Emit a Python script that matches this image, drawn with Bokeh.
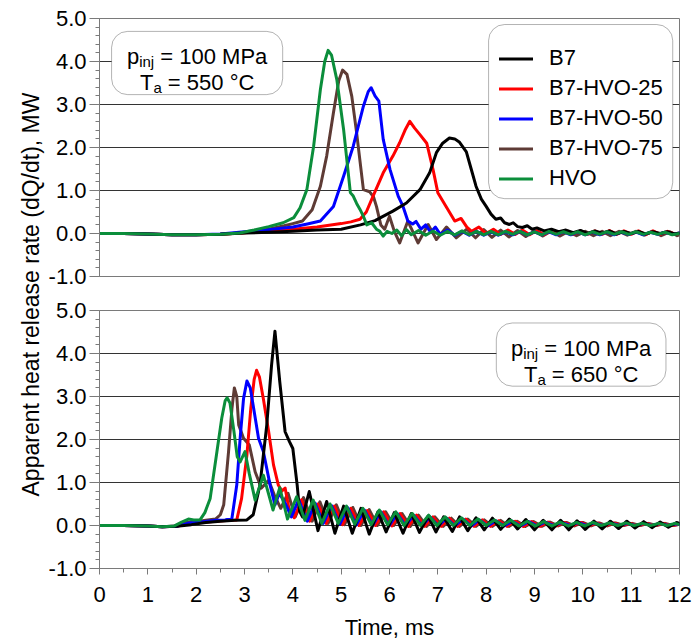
import math
from bokeh.plotting import figure
from bokeh.layouts import row, column
from bokeh.models import (Range1d, FixedTicker, NumeralTickFormatter, BoxAnnotation,
                          Label, Legend, LegendItem)
from bokeh.embed import file_html
from bokeh.resources import INLINE

# ---------------- data (time in ms, heat release rate in MW) ----------------
series_names = ["B7", "B7-HVO-25", "B7-HVO-50", "B7-HVO-75", "HVO"]
series_colors = ["#000000", "#ff0000", "#0000ff", "#5e3b35", "#0b8e3b"]
x_ticks = [0, 1, 2, 3, 4, 5, 6, 7, 8, 9, 10, 11, 12]
y_ticks = [-1, 0, 1, 2, 3, 4, 5]

b7_550 = [(0,0),(0.5,0),(1.0,-0.01),(1.5,-0.03),(2.0,-0.03),(2.5,-0.02),(3.0,0.01),(3.5,0.03),(4.0,0.05),(4.5,0.08),(5.0,0.1),(5.4,0.2),(5.7,0.3),(6.07,0.52),(6.35,0.71),(6.63,1.02),(6.83,1.41),(6.97,1.88),(7.1,2.1),(7.24,2.22),(7.35,2.2),(7.45,2.12),(7.59,1.9),(7.69,1.5),(7.79,1.1),(7.9,0.8),(8.0,0.63),(8.1,0.45),(8.2,0.33),(8.3,0.36),(8.38,0.25),(8.48,0.21),(8.56,0.25),(8.65,0.16),(8.75,0.14),(8.85,0.18),(8.95,0.1),(9.05,0.13),(9.2,0.06),(9.35,0.1),(9.5,0.04),(9.65,0.08),(9.8,0.02),(9.95,0.07),(10.1,0.0),(10.25,0.06),(10.4,0.01),(10.55,0.06),(10.7,-0.01),(10.85,0.05),(11.0,0.0),(11.15,0.05),(11.3,-0.01),(11.45,0.04),(11.6,0.0),(11.75,0.04),(11.9,-0.01),(12.0,0.01)]
h25_550 = [(0,0),(0.5,0),(1.0,-0.01),(1.5,-0.03),(2.0,-0.03),(2.5,-0.02),(3.0,0.02),(3.5,0.05),(4.0,0.1),(4.5,0.15),(5.0,0.23),(5.2,0.27),(5.39,0.33),(5.52,0.5),(5.66,0.87),(5.87,1.41),(6.07,1.8),(6.21,2.11),(6.32,2.4),(6.42,2.61),(6.52,2.45),(6.63,2.3),(6.77,2.1),(6.9,1.49),(7.0,0.95),(7.17,0.63),(7.35,0.29),(7.48,0.35),(7.6,0.15),(7.7,0.05),(7.85,0.15),(8.0,0.0),(8.15,0.1),(8.3,-0.02),(8.45,0.08),(8.6,-0.02),(8.75,0.08),(8.9,-0.03),(9.05,0.07),(9.2,-0.03),(9.35,0.07),(9.5,-0.02),(9.65,0.07),(9.8,-0.02),(9.95,0.06),(10.1,-0.02),(10.25,0.06),(10.4,-0.02),(10.55,0.07),(10.7,-0.02),(10.85,0.06),(11.0,-0.02),(11.15,0.06),(11.3,-0.03),(11.45,0.06),(11.6,-0.02),(11.75,0.05),(11.9,-0.01),(12.0,0.0)]
h50_550 = [(0,0),(0.5,0),(1.0,-0.01),(1.5,-0.03),(2.0,-0.03),(2.5,-0.01),(3.0,0.04),(3.5,0.09),(4.0,0.15),(4.3,0.22),(4.57,0.29),(4.84,0.63),(5.05,1.33),(5.25,2.03),(5.46,2.96),(5.56,3.3),(5.62,3.39),(5.7,3.2),(5.78,3.08),(5.87,2.19),(6.01,1.49),(6.18,0.87),(6.28,0.63),(6.38,0.29),(6.48,0.22),(6.55,0.28),(6.65,0.1),(6.75,0.2),(6.85,0.03),(6.95,0.15),(7.05,-0.02),(7.2,0.08),(7.35,-0.04),(7.5,0.05),(7.65,-0.04),(7.8,0.05),(7.95,-0.04),(8.1,0.04),(8.25,-0.04),(8.4,0.04),(8.55,-0.03),(8.7,0.05),(8.85,-0.03),(9.0,0.04),(9.15,-0.03),(9.3,0.04),(9.45,-0.03),(9.6,0.04),(9.75,-0.03),(9.9,0.04),(10.05,-0.03),(10.2,0.03),(10.35,-0.03),(10.5,0.04),(10.65,-0.03),(10.8,0.03),(10.95,-0.02),(11.1,0.03),(11.25,-0.03),(11.4,0.03),(11.55,-0.02),(11.7,0.03),(11.85,-0.02),(12.0,0.01)]
h75_550 = [(0,0),(0.5,0),(1.0,-0.01),(1.5,-0.03),(2.0,-0.03),(2.5,-0.02),(3.0,0.02),(3.5,0.1),(3.82,0.18),(4.0,0.23),(4.2,0.29),(4.4,0.55),(4.57,1.1),(4.7,1.8),(4.84,2.81),(4.95,3.55),(5.03,3.8),(5.12,3.7),(5.22,3.19),(5.32,2.34),(5.46,1.02),(5.59,0.97),(5.67,0.85),(5.73,0.63),(5.82,0.2),(5.9,0.1),(6.0,0.4),(6.1,0.05),(6.21,-0.22),(6.38,0.29),(6.59,-0.22),(6.8,0.21),(6.97,-0.14),(7.18,0.15),(7.38,-0.1),(7.6,0.1),(7.78,-0.1),(7.95,0.09),(8.12,-0.09),(8.3,0.08),(8.47,-0.08),(8.65,0.07),(8.82,-0.07),(9.0,0.06),(9.17,-0.06),(9.35,0.06),(9.52,-0.06),(9.7,0.05),(9.87,-0.05),(10.05,0.05),(10.22,-0.05),(10.4,0.05),(10.57,-0.05),(10.75,0.05),(10.92,-0.04),(11.1,0.05),(11.27,-0.04),(11.45,0.05),(11.62,-0.05),(11.8,0.04),(11.95,-0.05),(12.0,-0.03)]
hvo_550 = [(0,0),(0.5,0),(1.0,-0.01),(1.5,-0.03),(2.0,-0.03),(2.5,-0.02),(2.9,0.01),(3.2,0.08),(3.5,0.16),(3.8,0.25),(4.02,0.37),(4.15,0.6),(4.29,1.02),(4.43,2.03),(4.57,3.35),(4.66,4.0),(4.73,4.26),(4.8,4.15),(4.91,3.58),(5.05,2.42),(5.19,0.95),(5.25,0.87),(5.32,0.7),(5.39,0.56),(5.46,0.4),(5.53,0.2),(5.63,0.25),(5.73,0.1),(5.8,0.05),(5.87,-0.06),(5.95,0.05),(6.05,0.0),(6.15,0.08),(6.25,-0.05),(6.35,0.09),(6.45,-0.03),(6.6,0.07),(6.75,-0.04),(6.9,0.06),(7.05,-0.04),(7.2,0.05),(7.35,-0.03),(7.5,0.06),(7.65,-0.03),(7.8,0.05),(7.95,-0.03),(8.1,0.05),(8.25,-0.03),(8.4,0.05),(8.55,-0.02),(8.7,0.05),(8.85,-0.03),(9.0,0.04),(9.15,-0.03),(9.3,0.05),(9.45,-0.02),(9.6,0.04),(9.75,-0.02),(9.9,0.04),(10.05,-0.03),(10.2,0.04),(10.35,-0.02),(10.5,0.04),(10.65,-0.02),(10.8,0.04),(10.95,-0.02),(11.1,0.04),(11.25,-0.02),(11.4,0.03),(11.55,-0.02),(11.7,0.03),(11.85,-0.03),(12.0,0.0)]

b7_650 = [(0,0),(0.5,0),(1.0,-0.01),(1.3,-0.03),(1.6,-0.02),(1.9,0.02),(2.2,0.07),(2.5,0.1),(2.8,0.12),(3.05,0.13),(3.18,0.25),(3.32,0.94),(3.46,2.33),(3.56,3.73),(3.63,4.52),(3.73,3.34),(3.84,2.18),(3.93,1.95),(4.0,1.79),(4.09,0.94),(4.14,0.33),(4.2,0.2),(4.34,0.79),(4.52,-0.12),(4.7,0.56),(4.87,-0.18),(5.05,0.45),(5.23,-0.18),(5.41,0.4),(5.58,-0.2),(5.76,0.32),(5.93,-0.15),(6.1,0.3),(6.28,-0.18),(6.45,0.28),(6.62,-0.16),(6.8,0.22),(6.96,-0.15),(7.12,0.2),(7.3,-0.14),(7.45,0.2),(7.62,-0.12),(7.79,0.18),(7.96,-0.1),(8.13,0.17),(8.3,-0.09),(8.48,0.15),(8.65,-0.08),(8.82,0.14),(9.0,-0.1),(9.18,0.12),(9.36,-0.1),(9.54,0.12),(9.71,-0.1),(9.88,0.11),(10.05,-0.09),(10.23,0.1),(10.4,-0.08),(10.57,0.1),(10.74,-0.07),(10.91,0.1),(11.08,-0.06),(11.26,0.09),(11.43,-0.05),(11.6,0.08),(11.77,-0.04),(11.94,0.07),(12.0,0.05)]
h25_650 = [(0,0),(0.5,0),(1.0,-0.01),(1.3,-0.03),(1.6,-0.02),(1.85,0.05),(2.1,0.07),(2.4,0.1),(2.7,0.12),(2.84,0.13),(2.94,0.63),(3.05,1.64),(3.13,2.72),(3.2,3.4),(3.25,3.61),(3.31,3.45),(3.39,2.95),(3.5,2.18),(3.6,1.41),(3.7,0.94),(3.77,0.8),(3.84,0.87),(3.93,0.33),(4.03,0.18),(4.18,0.6),(4.35,0.1),(4.52,0.5),(4.69,0.05),(4.86,0.45),(5.03,0.02),(5.2,0.4),(5.37,0.0),(5.54,0.35),(5.71,0.0),(5.88,0.32),(6.05,-0.01),(6.22,0.28),(6.39,-0.02),(6.56,0.24),(6.73,-0.02),(6.9,0.2),(7.07,-0.02),(7.24,0.17),(7.41,-0.02),(7.58,0.15),(7.75,-0.02),(7.92,0.13),(8.09,-0.02),(8.26,0.11),(8.43,-0.02),(8.6,0.1),(8.77,-0.02),(8.94,0.09),(9.11,-0.02),(9.28,0.08),(9.45,-0.01),(9.62,0.07),(9.79,-0.01),(9.96,0.07),(10.13,-0.01),(10.3,0.06),(10.47,-0.01),(10.64,0.06),(10.81,0.0),(10.98,0.05),(11.15,0.0),(11.32,0.05),(11.49,0.0),(11.66,0.05),(11.83,0.0),(12.0,0.03)]
h50_650 = [(0,0),(0.5,0),(1.0,-0.01),(1.3,-0.03),(1.6,-0.02),(1.85,0.06),(2.1,0.08),(2.4,0.12),(2.6,0.13),(2.74,0.17),(2.84,0.94),(2.91,2.03),(2.98,2.95),(3.05,3.36),(3.12,3.2),(3.19,2.72),(3.29,2.03),(3.39,1.72),(3.53,0.94),(3.63,0.48),(3.72,0.75),(3.85,0.5),(3.97,0.2),(4.12,0.6),(4.3,0.1),(4.46,0.52),(4.63,0.05),(4.8,0.46),(4.97,0.03),(5.14,0.41),(5.31,0.01),(5.48,0.36),(5.65,0.0),(5.82,0.32),(5.99,-0.01),(6.16,0.28),(6.33,-0.01),(6.5,0.24),(6.67,-0.01),(6.84,0.2),(7.01,-0.01),(7.18,0.17),(7.35,-0.01),(7.52,0.15),(7.69,-0.01),(7.86,0.13),(8.03,-0.01),(8.2,0.11),(8.37,-0.01),(8.54,0.1),(8.71,-0.01),(8.88,0.09),(9.05,-0.01),(9.22,0.08),(9.39,0.0),(9.56,0.07),(9.73,0.0),(9.9,0.07),(10.07,0.0),(10.24,0.06),(10.41,0.0),(10.58,0.06),(10.75,0.0),(10.92,0.05),(11.09,0.0),(11.26,0.05),(11.43,0.0),(11.6,0.05),(11.77,0.0),(11.94,0.04),(12.0,0.03)]
h75_650 = [(0,0),(0.5,0),(1.0,-0.01),(1.3,-0.03),(1.6,-0.01),(1.8,0.07),(2.0,0.09),(2.2,0.12),(2.4,0.15),(2.5,0.25),(2.57,0.48),(2.67,1.72),(2.74,2.72),(2.79,3.2),(2.84,3.0),(2.88,2.34),(2.98,2.03),(3.1,1.87),(3.22,1.25),(3.35,0.87),(3.5,1.05),(3.62,0.7),(3.75,0.4),(3.9,0.75),(4.05,0.2),(4.22,0.65),(4.4,0.1),(4.56,0.55),(4.73,0.05),(4.9,0.48),(5.07,0.02),(5.24,0.42),(5.41,0.0),(5.58,0.37),(5.75,0.0),(5.92,0.32),(6.09,0.0),(6.26,0.28),(6.43,-0.02),(6.6,0.24),(6.77,-0.02),(6.94,0.2),(7.11,-0.02),(7.28,0.17),(7.45,-0.02),(7.62,0.15),(7.79,-0.02),(7.96,0.13),(8.13,-0.02),(8.3,0.12),(8.47,-0.02),(8.64,0.1),(8.81,-0.02),(8.98,0.09),(9.15,-0.02),(9.32,0.08),(9.49,-0.01),(9.66,0.07),(9.83,-0.01),(10.0,0.07),(10.17,-0.01),(10.34,0.06),(10.51,-0.01),(10.68,0.06),(10.85,0.0),(11.02,0.05),(11.19,0.0),(11.36,0.05),(11.53,0.0),(11.7,0.05),(11.87,0.0),(12.0,0.03)]
hvo_650 = [(0,0),(0.5,0),(1.0,-0.01),(1.3,-0.03),(1.55,-0.01),(1.7,0.08),(1.84,0.15),(1.95,0.13),(2.08,0.13),(2.18,0.3),(2.29,0.63),(2.43,1.72),(2.53,2.5),(2.6,2.9),(2.64,2.97),(2.7,2.85),(2.78,2.2),(2.85,1.6),(2.91,1.48),(3.01,1.72),(3.1,1.2),(3.22,0.59),(3.39,1.17),(3.59,0.36),(3.73,0.88),(3.89,0.15),(4.08,0.67),(4.25,0.12),(4.42,0.59),(4.6,0.05),(4.77,0.5),(4.94,0.05),(5.11,0.45),(5.28,0.03),(5.45,0.4),(5.62,0.02),(5.79,0.36),(5.96,0.02),(6.13,0.32),(6.3,0.0),(6.47,0.28),(6.64,0.0),(6.81,0.24),(6.98,0.0),(7.15,0.2),(7.32,0.0),(7.49,0.18),(7.66,0.0),(7.83,0.15),(8.0,0.0),(8.17,0.13),(8.34,0.0),(8.51,0.12),(8.68,-0.01),(8.85,0.1),(9.02,-0.01),(9.19,0.09),(9.36,-0.01),(9.53,0.08),(9.7,-0.01),(9.87,0.07),(10.04,-0.01),(10.21,0.07),(10.38,0.0),(10.55,0.06),(10.72,0.0),(10.89,0.06),(11.06,0.0),(11.23,0.05),(11.4,0.0),(11.57,0.05),(11.74,0.0),(11.91,0.05),(12.0,0.02)]

panel_550 = [b7_550, h25_550, h50_550, h75_550, hvo_550]
panel_650 = [b7_650, h25_650, h50_650, h75_650, hvo_650]

# ---------------- styling ----------------
FONT = "Liberation Sans"
FS = "22px"
FRAME = "#7a7a7a"
GRID = "#333333"

# Arial/Liberation Sans advance widths (per 1000 em) for box texts
ADV = {"p": 556, "i": 222, "n": 556, "j": 222, " ": 278, "=": 584, "0": 556, "1": 556,
       "5": 556, "6": 556, "M": 833, "P": 667, "a": 556, "T": 611, "°": 400, "C": 722}


def text_w(s, size):
    return sum(ADV.get(c, 556) for c in s) * size / 1000.0


def make_fig(height, top_b, bottom_b, show_x):
    p = figure(width=647, height=height, x_range=Range1d(0, 12), y_range=Range1d(-1, 5),
               output_backend="svg", toolbar_location=None,
               min_border_left=51, min_border_right=13,
               min_border_top=top_b, min_border_bottom=bottom_b)
    p.outline_line_color = FRAME
    p.outline_line_width = 1
    p.background_fill_color = "white"
    p.xgrid.visible = False
    p.ygrid.ticker = FixedTicker(ticks=[0, 1, 2, 3, 4])
    p.ygrid.grid_line_color = GRID
    p.ygrid.grid_line_width = 1

    ya = p.yaxis[0]
    ya.ticker = FixedTicker(ticks=y_ticks, minor_ticks=[-1 + 0.2 * k for k in range(31)])
    ya.formatter = NumeralTickFormatter(format="0.0")
    ya.major_label_text_font = FONT
    ya.major_label_text_font_size = FS
    ya.major_label_text_color = "black"
    ya.major_tick_out = 10
    ya.major_tick_in = 0
    ya.minor_tick_out = 4
    ya.minor_tick_in = 0
    ya.major_label_standoff = 3
    ya.axis_line_color = FRAME
    ya.major_tick_line_color = FRAME
    ya.minor_tick_line_color = FRAME

    xa = p.xaxis[0]
    if show_x:
        xa.ticker = FixedTicker(ticks=x_ticks, minor_ticks=[0.5 + k for k in range(12)])
        xa.major_label_text_font = FONT
        xa.major_label_text_font_size = FS
        xa.major_label_text_color = "black"
        xa.major_tick_out = 6
        xa.major_tick_in = 0
        xa.minor_tick_out = 4
        xa.minor_tick_in = 0
        xa.major_label_standoff = 12
        xa.axis_line_color = FRAME
        xa.major_tick_line_color = FRAME
        xa.minor_tick_line_color = FRAME
        xa.axis_label = "Time, ms"
        xa.axis_label_text_font = FONT
        xa.axis_label_text_font_size = FS
        xa.axis_label_text_font_style = "normal"
        xa.axis_label_text_color = "black"
        xa.axis_label_standoff = 10
    else:
        xa.visible = False
    return p


def draw_series(p, data):
    rends = {}
    order = [3, 1, 2, 0, 4]
    for i in order:
        pts = data[i]
        xs = [a for a, _ in pts]
        ys = [b for _, b in pts]
        r = p.line(xs, ys, line_color=series_colors[i], line_width=3,
                   line_join="round", line_cap="round")
        rends[i] = r
    return [rends[i] for i in range(len(series_names))]


def add_condition_box(p, left, right, top, bottom, temp):
    p.add_layout(BoxAnnotation(left=left, right=right, top=top, bottom=bottom,
                               fill_color="white", fill_alpha=1.0,
                               line_color="black", line_width=1, border_radius=16))
    cx = (left + right) / 2.0
    lines = [
        (4.116, [("p", 22, 0, 0.0), ("inj", 15, -5, 0.0), ("= 100 MPa", 22, 0, text_w(" ", 22))]),
        (3.512, [("T", 22, 0, 0.0), ("a", 15, -5, 0.0), ("= %d °C" % temp, 22, 0, text_w(" ", 22))]),
    ]
    for y, parts in lines:
        total = sum(gap + text_w(t, s) for t, s, _, gap in parts)
        off = -total / 2.0
        for t, s, dy, gap in parts:
            off += gap
            p.add_layout(Label(x=cx, y=y, x_offset=off, y_offset=dy, text=t,
                               text_font=FONT, text_font_size="%dpx" % s,
                               text_color="black", text_align="left",
                               text_baseline="alphabetic"))
            off += text_w(t, s)


# ---------------- top panel (550 °C) ----------------
TOP_H = 293
BOT_H = 349
top = make_fig(TOP_H, 18, 17, False)
r_top = draw_series(top, panel_550)
add_condition_box(top, 0.25, 3.79, 4.70, 3.23, 550)

top.add_layout(BoxAnnotation(left=8.05, right=11.86, top=4.86, bottom=0.81,
                             fill_color="white", fill_alpha=1.0,
                             line_color="black", line_width=1, border_radius=16))
legend = Legend(items=[LegendItem(label=n, renderers=[r]) for n, r in zip(series_names, r_top)],
                location=(400, 85), orientation="vertical",
                glyph_width=34, glyph_height=25, label_height=25, label_standoff=16,
                spacing=4, padding=0, margin=0,
                border_line_alpha=0, background_fill_alpha=0,
                label_text_font=FONT, label_text_font_size=FS, label_text_color="black")
top.add_layout(legend)

# ---------------- bottom panel (650 °C) ----------------
bot = make_fig(BOT_H, 17, 74, True)
draw_series(bot, panel_650)
add_condition_box(bot, 8.21, 11.72, 4.71, 3.24, 650)

# ---------------- shared y label ----------------
LAB_W = 45
LAB_H = TOP_H + BOT_H
lab = figure(width=LAB_W, height=LAB_H, x_range=Range1d(0, 1), y_range=Range1d(0, 1),
             output_backend="svg", toolbar_location=None,
             x_axis_location=None, y_axis_location=None,
             min_border_left=0, min_border_right=0, min_border_top=0, min_border_bottom=0)
lab.grid.visible = False
lab.outline_line_color = None
lab.add_layout(Label(x=30 / LAB_W, y=1 - 294 / LAB_H, text="Apparent heat release rate (dQ/dt), MW",
                     angle=math.pi / 2, text_align="center", text_baseline="middle",
                     text_font=FONT, text_font_size="23px", text_color="black"))

layout = row(lab, column(top, bot))
open("out.html", "w").write(file_html(layout, INLINE))
